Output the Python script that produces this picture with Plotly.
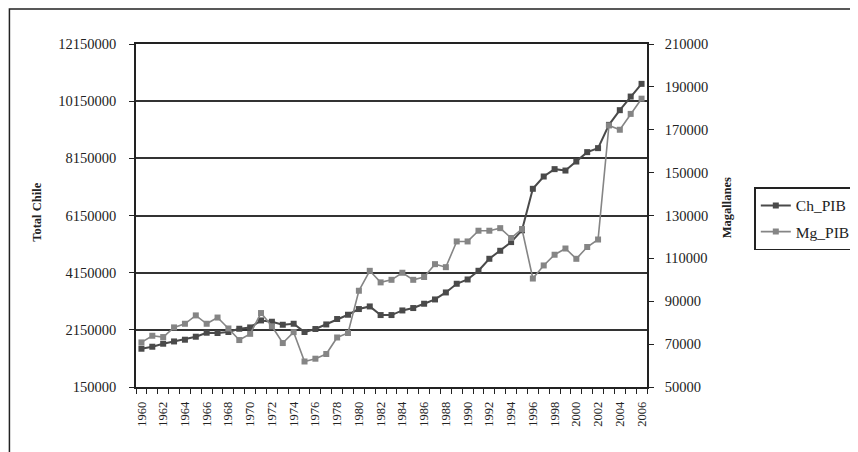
import plotly.graph_objects as go

# PIB series, 1960-2006
years = list(range(1960, 2007))

ch_pib = [
    1489000, 1559000, 1664000, 1744000, 1804000, 1909000, 2049000, 2038000,
    2073000, 2188000, 2234000, 2479000, 2433000, 2328000, 2363000, 2073000,
    2178000, 2339000, 2528000, 2678000, 2877000, 2968000, 2667000, 2667000,
    2828000, 2912000, 3063000, 3213000, 3458000, 3762000, 3912000, 4216000,
    4636000, 4916000, 5220000, 5632000, 7084000, 7514000, 7772000, 7723000,
    8038000, 8367000, 8507000, 9321000, 9835000, 10311000, 10755000,
]

mg_pib = [
    70800, 73900, 73300, 77800, 79500, 83400, 79500, 82400,
    77300, 71900, 74800, 84500, 78300, 70500, 75600, 61900,
    63200, 65400, 73100, 75200, 94900, 104200, 98800, 100000,
    103300, 100000, 101300, 107300, 105900, 117900, 117900, 122900,
    122900, 124100, 119500, 123700, 100600, 106700, 111700, 114600,
    109800, 115300, 118800, 172000, 170000, 177400, 184500,
]

x_tick_years = years[::2]
x_tick_labels = [str(y) for y in x_tick_years]

left_ticks = [150000, 2150000, 4150000, 6150000, 8150000, 10150000, 12150000]
right_ticks = [50000, 70000, 90000, 110000, 130000, 150000, 170000, 190000, 210000]

FONT = "Liberation Serif, Times New Roman, serif"
INK = "#222222"

fig = go.Figure()

fig.add_trace(
    go.Scatter(
        x=years,
        y=ch_pib,
        name="Ch_PIB",
        legendgroup="ch",
        mode="lines+markers",
        line=dict(color="#4a4a4a", width=2),
        marker=dict(symbol="square", size=6, color="#4a4a4a"),
        yaxis="y",
    )
)

fig.add_trace(
    go.Scatter(
        x=years,
        y=mg_pib,
        name="Mg_PIB",
        legendgroup="mg",
        mode="lines+markers",
        line=dict(color="#858585", width=1.6),
        marker=dict(symbol="square", size=6, color="#858585"),
        yaxis="y2",
    )
)

# the page adds an 8px body margin, so the figure is sized/shifted to compensate
fig.update_layout(
    width=850,
    height=444,
    autosize=False,
    paper_bgcolor="white",
    plot_bgcolor="white",
    margin=dict(l=128, r=211.3, t=36, b=64.7, pad=0, autoexpand=False),
    font=dict(family=FONT, size=14, color=INK),
    xaxis=dict(
        range=[1959.5, 2006.5],
        tickvals=x_tick_years,
        ticktext=x_tick_labels,
        tickangle=-90,
        ticks="outside",
        ticklen=0,
        ticklabelstandoff=8,
        tickfont=dict(family=FONT, size=12.5, color=INK),
        minor=dict(tick0=1959.5, dtick=1, ticks="outside", ticklen=5, tickcolor=INK),
        showline=True,
        linecolor=INK,
        linewidth=1.5,
        mirror=True,
        showgrid=False,
        zeroline=False,
        automargin=False,
        fixedrange=True,
    ),
    yaxis=dict(
        range=[150000, 12150000],
        tickvals=left_ticks,
        tickformat="d",
        ticks="outside",
        ticklen=5,
        tickcolor=INK,
        ticklabelstandoff=10,
        tickfont=dict(family=FONT, size=14.5, color=INK),
        showline=True,
        linecolor=INK,
        linewidth=1.5,
        showgrid=True,
        gridcolor="#333333",
        gridwidth=1.5,
        zeroline=False,
        automargin=False,
        fixedrange=True,
    ),
    yaxis2=dict(
        range=[50000, 210000],
        tickvals=right_ticks,
        tickformat="d",
        overlaying="y",
        side="right",
        ticks="outside",
        ticklen=5,
        tickcolor=INK,
        ticklabelstandoff=8,
        tickfont=dict(family=FONT, size=14.5, color=INK),
        showline=True,
        linecolor=INK,
        linewidth=1.5,
        showgrid=False,
        zeroline=False,
        automargin=False,
        fixedrange=True,
    ),
    legend=dict(
        x=1.21,
        y=0.582,
        xanchor="left",
        yanchor="top",
        bordercolor=INK,
        borderwidth=1.5,
        bgcolor="white",
        font=dict(family=FONT, size=15.5, color=INK),
        tracegroupgap=3,
        itemwidth=30,
    ),
    showlegend=True,
)

# axis titles
fig.add_annotation(
    text="<b>Total Chile</b>",
    xref="paper", yref="paper",
    x=-0.1944, y=0.51,
    xanchor="center", yanchor="middle",
    textangle=-90,
    showarrow=False,
    font=dict(family=FONT, size=12.5, color=INK),
)
fig.add_annotation(
    text="<b>Magallanes</b>",
    xref="paper", yref="paper",
    x=1.157, y=0.522,
    xanchor="center", yanchor="middle",
    textangle=-90,
    showarrow=False,
    font=dict(family=FONT, size=12.5, color=INK),
)

# outer frame of the chart
fig.add_shape(
    type="rect",
    xref="paper", yref="paper",
    x0=-0.2477, y0=-0.25, x1=1.45, y1=1.102,
    line=dict(color=INK, width=1.5),
    layer="below",
)

fig.write_html("out.html", config={"displayModeBar": False})
